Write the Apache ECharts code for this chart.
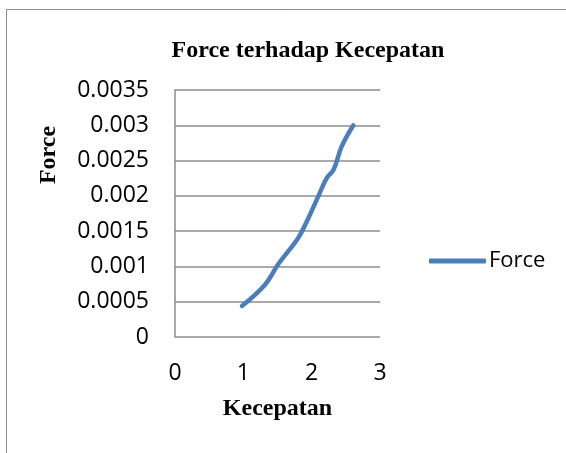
<!DOCTYPE html>
<html>
<head>
    <meta charset="utf-8">
    <title>Force terhadap Kecepatan</title>
    <script src="https://cdn.jsdelivr.net/npm/echarts@6/dist/echarts.min.js"></script>
    <style type="text/css">
        html, body { margin: 0; padding: 0; background: #fff; }
        #main { width: 566px; height: 453px; }
    </style>
</head>
<body>
    <div id="main"></div>
    <script type="text/javascript">
        // data
        var kecepatan = [0.98, 1.32, 1.51, 1.8, 1.93, 2.1, 2.22, 2.32, 2.44, 2.61];
        var force = [0.00044, 0.000745, 0.00103, 0.0014, 0.00164, 0.002, 0.00225, 0.00237, 0.0027, 0.003];
        var xTicks = [0, 1, 2, 3];
        var yTicks = [0, 0.0005, 0.001, 0.0015, 0.002, 0.0025, 0.003, 0.0035];

        var points = kecepatan.map(function (v, i) { return [v, force[i]]; });
        var labelFont = 'Open Sans';
        var serif = 'Liberation Serif';

        var chart = echarts.init(document.getElementById('main'));
        var option = {
            backgroundColor: '#fff',
            animation: false,
            title: {
                text: 'Force terhadap Kecepatan',
                left: 303,
                textAlign: 'center',
                top: 34,
                textStyle: { fontFamily: serif, fontWeight: 'bold', fontSize: 24, color: '#000' }
            },
            legend: {
                left: 424,
                top: 245,
                itemWidth: 57,
                itemHeight: 5,
                itemGap: 2,
                icon: 'roundRect',
                data: ['Force'],
                textStyle: { fontFamily: labelFont, fontSize: 22, color: '#000', padding: [0, 0, 0, -2] }
            },
            grid: { left: 175, top: 90, right: 186, bottom: 116, containLabel: false },
            xAxis: {
                type: 'value',
                min: xTicks[0],
                max: xTicks[xTicks.length - 1],
                interval: 1,
                name: 'Kecepatan',
                nameLocation: 'middle',
                nameGap: 60,
                nameTextStyle: { fontFamily: serif, fontWeight: 'bold', fontSize: 24, color: '#000' },
                axisLine: { show: false },
                axisTick: { show: false },
                splitLine: { show: false },
                axisLabel: { margin: 25, fontFamily: labelFont, fontSize: 23, color: '#000' }
            },
            yAxis: {
                type: 'value',
                min: yTicks[0],
                max: yTicks[yTicks.length - 1],
                interval: 0.0005,
                axisLine: { show: true, lineStyle: { color: '#8c8c8c', width: 1.5 } },
                axisTick: { show: false },
                splitLine: { show: true, lineStyle: { color: '#8c8c8c', width: 1.5 } },
                axisLabel: {
                    margin: 26,
                    fontFamily: labelFont,
                    fontSize: 23,
                    color: '#000',
                    formatter: function (v) { return String(+v.toFixed(4)); }
                }
            },
            graphic: [{
                type: 'rect',
                shape: { x: 6.5, y: 9.5, width: 570, height: 460 },
                style: { fill: 'none', stroke: '#8c8c8c', lineWidth: 1 },
                silent: true,
                z: -1
            }, {
                // y axis title sits above the middle in the original
                type: 'text',
                x: 49,
                y: 155,
                rotation: Math.PI / 2,
                style: {
                    text: 'Force',
                    fontFamily: serif,
                    fontWeight: 'bold',
                    fontSize: 24,
                    fill: '#000',
                    align: 'center',
                    verticalAlign: 'middle'
                }
            }],
            series: [{
                name: 'Force',
                type: 'line',
                data: points,
                smooth: 0.4,
                showSymbol: false,
                symbol: 'none',
                lineStyle: { color: '#4a7ebb', width: 4.5, cap: 'round' },
                itemStyle: { color: '#4a7ebb' }
            }]
        };
        chart.setOption(option);
    </script>
</body>
</html>
